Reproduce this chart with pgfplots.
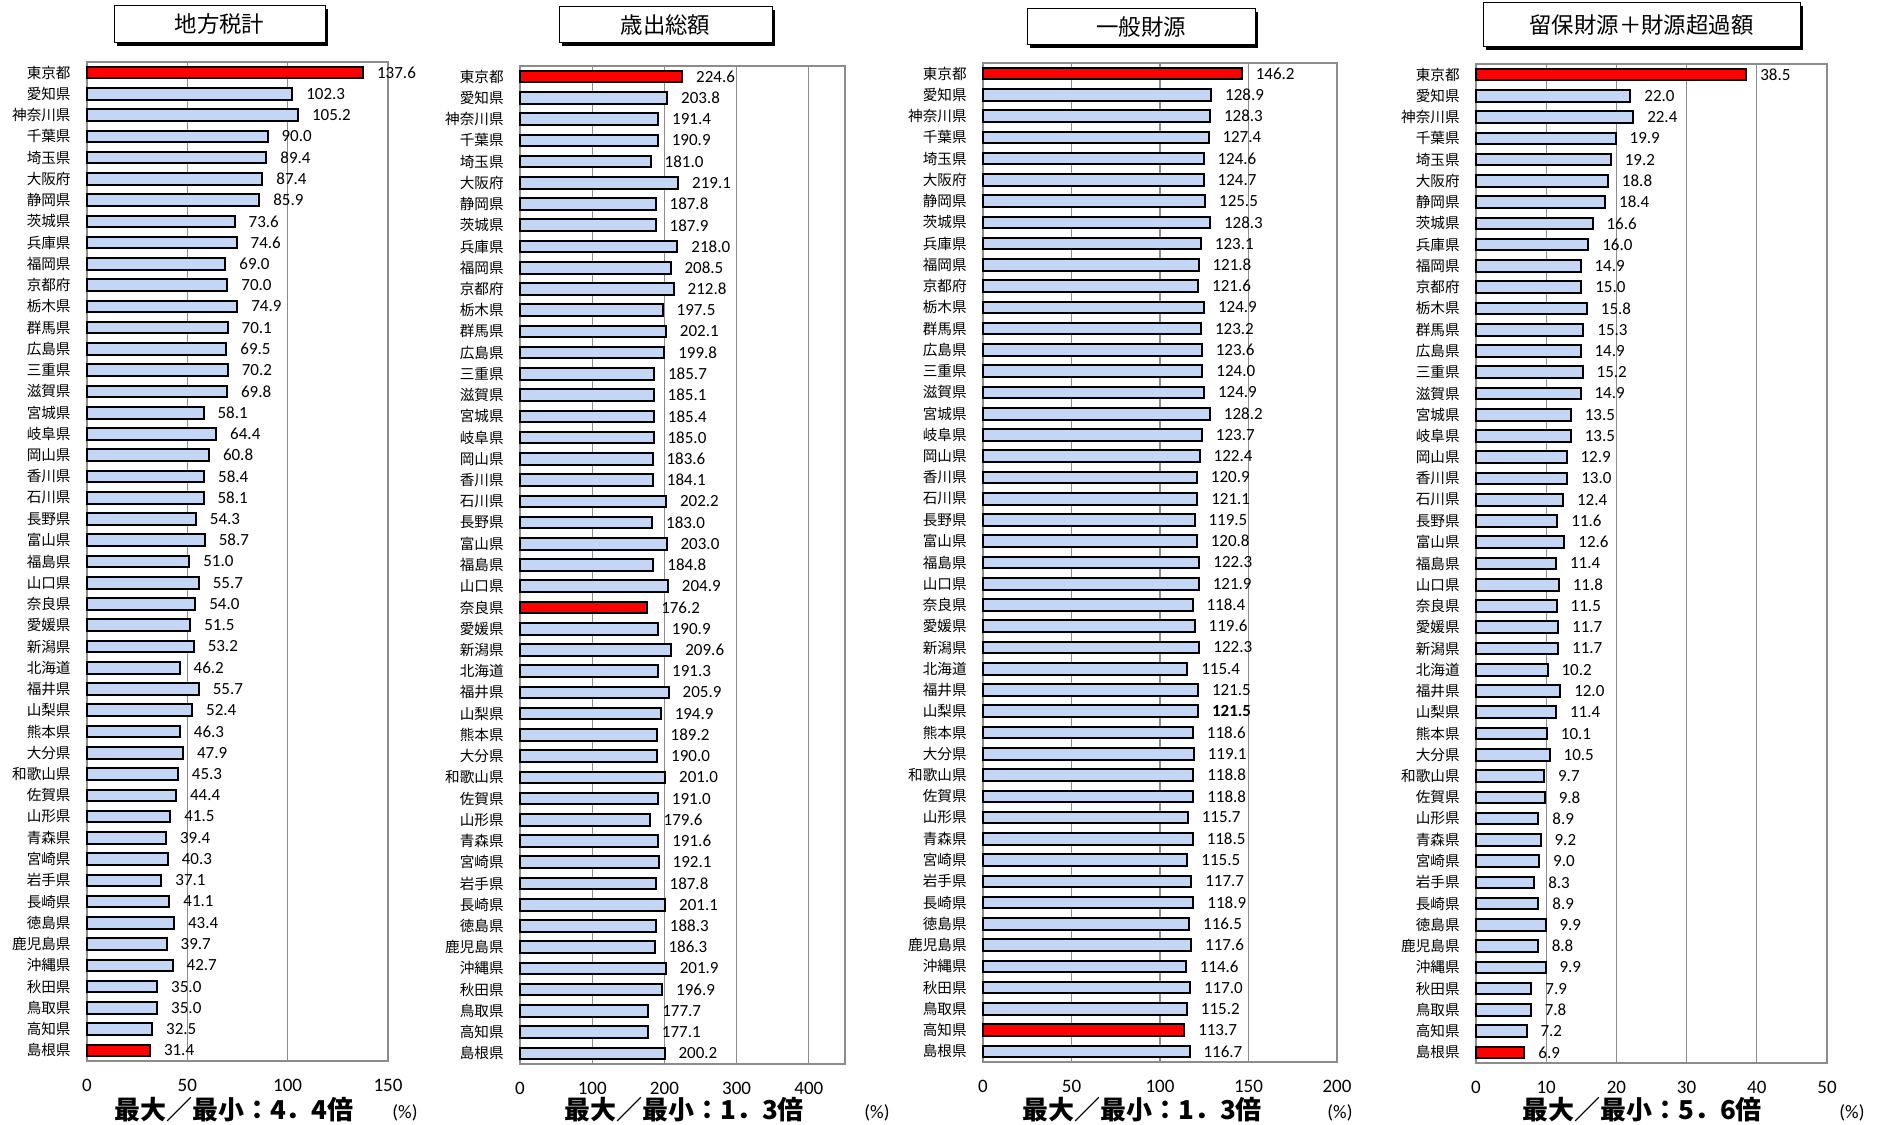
\documentclass[border=0pt]{standalone}
\usepackage{fontspec}
\setmainfont{Carlito}
\newfontfamily\jp{Noto Sans CJK JP}
\usepackage{pgfplots}
\pgfplotsset{compat=1.18}
\usepackage{pgfplotstable}

\definecolor{barblue}{RGB}{196,214,246}
\definecolor{gridgray}{RGB}{140,140,140}

\pgfplotstableread{
i v
0 137.6
1 102.3
2 105.2
3 90.0
4 89.4
5 87.4
6 85.9
7 73.6
8 74.6
9 69.0
10 70.0
11 74.9
12 70.1
13 69.5
14 70.2
15 69.8
16 58.1
17 64.4
18 60.8
19 58.4
20 58.1
21 54.3
22 58.7
23 51.0
24 55.7
25 54.0
26 51.5
27 53.2
28 46.2
29 55.7
30 52.4
31 46.3
32 47.9
33 45.3
34 44.4
35 41.5
36 39.4
37 40.3
38 37.1
39 41.1
40 43.4
41 39.7
42 42.7
43 35.0
44 35.0
45 32.5
46 31.4
}\tA

\pgfplotstableread{
i v
0 224.6
1 203.8
2 191.4
3 190.9
4 181.0
5 219.1
6 187.8
7 187.9
8 218.0
9 208.5
10 212.8
11 197.5
12 202.1
13 199.8
14 185.7
15 185.1
16 185.4
17 185.0
18 183.6
19 184.1
20 202.2
21 183.0
22 203.0
23 184.8
24 204.9
25 176.2
26 190.9
27 209.6
28 191.3
29 205.9
30 194.9
31 189.2
32 190.0
33 201.0
34 191.0
35 179.6
36 191.6
37 192.1
38 187.8
39 201.1
40 188.3
41 186.3
42 201.9
43 196.9
44 177.7
45 177.1
46 200.2
}\tB

\pgfplotstableread{
i v
0 146.2
1 128.9
2 128.3
3 127.4
4 124.6
5 124.7
6 125.5
7 128.3
8 123.1
9 121.8
10 121.6
11 124.9
12 123.2
13 123.6
14 124.0
15 124.9
16 128.2
17 123.7
18 122.4
19 120.9
20 121.1
21 119.5
22 120.8
23 122.3
24 121.9
25 118.4
26 119.6
27 122.3
28 115.4
29 121.5
30 121.5
31 118.6
32 119.1
33 118.8
34 118.8
35 115.7
36 118.5
37 115.5
38 117.7
39 118.9
40 116.5
41 117.6
42 114.6
43 117.0
44 115.2
45 113.7
46 116.7
}\tC

\pgfplotstableread{
i v
0 38.5
1 22.0
2 22.4
3 19.9
4 19.2
5 18.8
6 18.4
7 16.6
8 16.0
9 14.9
10 15.0
11 15.8
12 15.3
13 14.9
14 15.2
15 14.9
16 13.5
17 13.5
18 12.9
19 13.0
20 12.4
21 11.6
22 12.6
23 11.4
24 11.8
25 11.5
26 11.7
27 11.7
28 10.2
29 12.0
30 11.4
31 10.1
32 10.5
33 9.7
34 9.8
35 8.9
36 9.2
37 9.0
38 8.3
39 8.9
40 9.9
41 8.8
42 9.9
43 7.9
44 7.8
45 7.2
46 6.9
}\tD

\pgfplotsset{
  panel/.style={
    scale only axis, anchor=south west,
    xbar, y dir=reverse,
    ymin=-0.5, ymax=46.5, xmin=0,
    ytick={0,...,46},
    yticklabels={東京都,愛知県,神奈川県,千葉県,埼玉県,大阪府,静岡県,茨城県,兵庫県,福岡県,京都府,栃木県,群馬県,広島県,三重県,滋賀県,宮城県,岐阜県,岡山県,香川県,石川県,長野県,富山県,福島県,山口県,奈良県,愛媛県,新潟県,北海道,福井県,山梨県,熊本県,大分県,和歌山県,佐賀県,山形県,青森県,宮崎県,岩手県,長崎県,徳島県,鹿児島県,沖縄県,秋田県,鳥取県,高知県,島根県},
    major tick length=0,
    xmajorgrids, grid style={gridgray, line width=0.6pt},
    axis line style={gridgray, line width=0.6pt},
    yticklabel style={font=\jp\fontsize{7.3}{8}\selectfont, anchor=east, inner sep=0pt, xshift=-8pt},
    xticklabel style={font=\fontsize{9.5}{11}\selectfont, anchor=center, yshift=-12pt},
    /pgf/number format/assume math mode=true,
    point meta=x,
    nodes near coords={\pgfmathprintnumber[fixed,fixed zerofill,precision=1,assume math mode=true]{\pgfplotspointmeta}},
    nodes near coords style={anchor=west, inner sep=0pt, xshift=6.5pt, font=\fontsize{8.5}{10}\selectfont, text=black},
    clip=false,
  },
  nb/.style={draw=black, line width=1pt, fill=barblue, bar width=5.8pt, bar shift=0pt},
  rb/.style={draw=black, line width=1pt, fill=red, bar width=5.8pt, bar shift=0pt},
}

\newcommand{\titlebox}[5]{%
  \fill[black] ({#1+1.6pt},{#3-1.6pt}) rectangle ({#2+1.6pt},{#4-1.6pt});
  \draw[black, line width=0.5pt, fill=white] (#1,#3) rectangle (#2,#4);
  \node[font=\jp\fontsize{11.2}{13}\selectfont, inner sep=0pt] at ({(#1+#2)/2},{(#3+#4)/2}) {#5};
}

\begin{document}
\begin{tikzpicture}
\useasboundingbox (0,0) rectangle (940.5pt,562.5pt);

% Panel 1
\begin{axis}[panel, at={(43.5pt,32pt)}, width=150.5pt, height=499.5pt, xmax=150, xtick={0,50,100,150}]
\addplot[nb, skip coords between index={0}{1}, skip coords between index={46}{47}] table[x=v,y=i]{\tA};
\addplot[rb, skip coords between index={1}{46}] table[x=v,y=i]{\tA};
\end{axis}

% Panel 2
\begin{axis}[panel, at={(260pt,30.5pt)}, width=162.5pt, height=499pt, xmax=450, xtick={0,100,200,300,400}]
\addplot[nb, skip coords between index={0}{1}, skip coords between index={25}{26}] table[x=v,y=i]{\tB};
\addplot[rb, skip coords between index={1}{25}, skip coords between index={26}{47}] table[x=v,y=i]{\tB};
\end{axis}

% Panel 3
\begin{axis}[panel, at={(491.5pt,31.5pt)}, width=177pt, height=499.5pt, xmax=200, xtick={0,50,100,150,200}]
\addplot[nb, skip coords between index={0}{1}, skip coords between index={30}{31}, skip coords between index={45}{46}] table[x=v,y=i]{\tC};
\addplot[nb, skip coords between index={0}{30}, skip coords between index={31}{47}, nodes near coords style={font=\bfseries\fontsize{8.5}{10}\selectfont}] table[x=v,y=i]{\tC};
\addplot[rb, skip coords between index={1}{45}, skip coords between index={46}{47}] table[x=v,y=i]{\tC};
\end{axis}

% Panel 4
\begin{axis}[panel, at={(738pt,31pt)}, width=175.5pt, height=499.5pt, xmax=50, xtick={0,10,20,30,40,50}]
\addplot[nb, skip coords between index={0}{1}, skip coords between index={46}{47}] table[x=v,y=i]{\tD};
\addplot[rb, skip coords between index={1}{46}] table[x=v,y=i]{\tD};
\end{axis}

% Titles
\titlebox{57pt}{162.5pt}{541pt}{559.5pt}{地方税計}
\titlebox{279.5pt}{386pt}{541pt}{559pt}{歳出総額}
\titlebox{513.5pt}{627.5pt}{540pt}{558pt}{一般財源}
\titlebox{741.5pt}{900pt}{539pt}{561pt}{留保財源＋財源超過額}

% Bottom notes
\node[font=\jp\bfseries\fontsize{13}{15}\selectfont, inner sep=0pt] at (117pt,7.6pt) {最大／最小：4．4倍};
\node[font=\jp\bfseries\fontsize{13}{15}\selectfont, inner sep=0pt] at (342pt,7.6pt) {最大／最小：1．3倍};
\node[font=\jp\bfseries\fontsize{13}{15}\selectfont, inner sep=0pt] at (571pt,7.6pt) {最大／最小：1．3倍};
\node[font=\jp\bfseries\fontsize{13}{15}\selectfont, inner sep=0pt] at (821pt,7.6pt) {最大／最小：5．6倍};
\node[font=\fontsize{9.5}{11}\selectfont, inner sep=0pt] at (202.5pt,6pt) {(\%)};
\node[font=\fontsize{9.5}{11}\selectfont, inner sep=0pt] at (438.5pt,6pt) {(\%)};
\node[font=\fontsize{9.5}{11}\selectfont, inner sep=0pt] at (670pt,6pt) {(\%)};
\node[font=\fontsize{9.5}{11}\selectfont, inner sep=0pt] at (926pt,6pt) {(\%)};
\end{tikzpicture}
\end{document}
